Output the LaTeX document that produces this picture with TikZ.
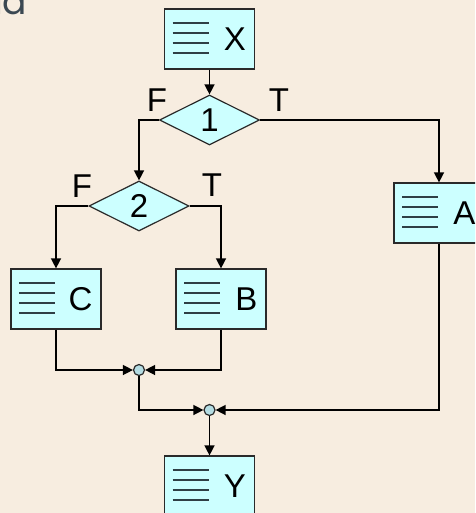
\documentclass[tikz,border=0pt]{standalone}
\usepackage{fontspec}
\setmainfont{Liberation Sans}
\newfontfamily\titlefont{Poppins}
\usetikzlibrary{shapes.geometric,arrows.meta}
\definecolor{bgbeige}{HTML}{F7EDE0}
\definecolor{boxcyan}{HTML}{CCFFFF}
\definecolor{junfill}{HTML}{B4DCE2}
\definecolor{edgegray}{HTML}{2A2A2A}
\definecolor{titlegray}{HTML}{3B4852}
\definecolor{rulegray}{HTML}{2F3F45}
\begin{document}
\begin{tikzpicture}[x=1pt,y=-1pt,
  bigfont/.style={font=\fontsize{33}{33}\selectfont},
  procbox/.style={draw=edgegray, line width=1.2pt, fill=boxcyan,
    minimum width=90pt, minimum height=60pt, inner xsep=0pt,
    text width=73pt, align=right, bigfont,
    path picture={\foreach \dy in {14,24,34,44}{\draw[rulegray,line width=1.2pt]
      ([xshift=8pt,yshift={-\dy*1pt}]path picture bounding box.north west) -- ++(36,0);}}},
  dec/.style={diamond, aspect=2, draw=edgegray, line width=1.2pt, fill=boxcyan,
    minimum width=100pt, minimum height=50pt, inner sep=0pt, bigfont},
  jn/.style={circle, draw=edgegray, line width=1.2pt, fill=junfill,
    minimum size=11pt, inner sep=0pt},
  lbl/.style={bigfont, inner sep=0pt},
  conn/.style={draw=black, line width=1.4pt, -{Triangle[length=10pt,width=10pt]}}
]
\useasboundingbox (0,0) rectangle (475,513);
\clip (0,0) rectangle (475,513);
\fill[bgbeige] (0,0) rectangle (475,513);

\node[anchor=base east, font=\titlefont\fontsize{36}{36}\selectfont, text=titlegray, inner sep=0pt] (title) at (27.5,15) {la};

\node[procbox] (X) at (209.5,39) {X};
\node[dec] (D1) at (209.5,120) {1};
\node[dec] (D2) at (139,206) {2};
\node[procbox] (C) at (56,299) {C};
\node[procbox] (B) at (221,299) {B};
\node[procbox] (A) at (439,213) {A};
\node[jn] (J1) at (139,370) {};
\node[jn] (J2) at (209.5,410) {};
\node[procbox] (Y) at (209.5,486) {Y};

\node[lbl] (F1) at (157,100) {F};
\node[lbl] (T1) at (279,100) {T};
\node[lbl] (F2) at (82,186) {F};
\node[lbl] (T2) at (212,185) {T};

\draw[conn] (X.south) -- (D1.north);
\draw[conn] (D1.west) -| (D2.north);
\draw[conn] (D1.east) -| (A.north);
\draw[conn] (D2.west) -| (C.north);
\draw[conn] (D2.east) -| (B.north);
\draw[conn] (C.south) |- (J1.west);
\draw[conn] (B.south) |- (J1.east);
\draw[conn] (J1.south) |- (J2.west);
\draw[conn] (A.south) |- (J2.east);
\draw[conn] (J2.south) -- (Y.north);
\end{tikzpicture}
\end{document}
